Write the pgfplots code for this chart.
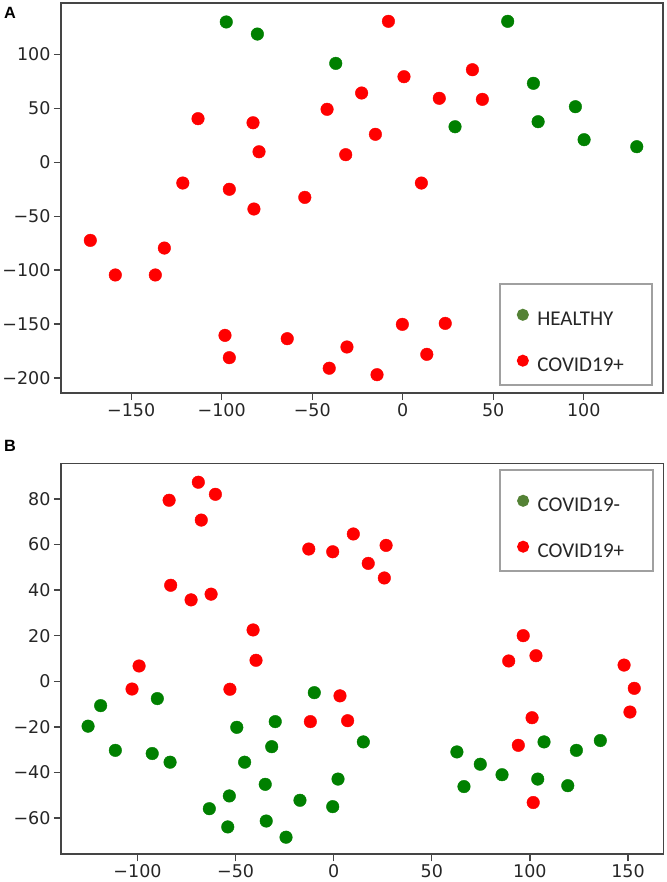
\documentclass[border=0pt]{standalone}
\usepackage{fontspec}
\setmainfont{DejaVu Sans}
\newfontfamily\legfont{Carlito}
\newfontfamily\panelfont{Liberation Sans}
\usepackage{pgfplots}
\pgfplotsset{compat=1.18}
\definecolor{pgreen}{HTML}{008000}
\definecolor{pred}{HTML}{FF0000}
\definecolor{lgreen}{HTML}{548235}
\definecolor{axgray}{HTML}{454545}
\definecolor{leggray}{HTML}{A0A0A0}

\pgfplotstableread{
x y
-97.5 130.2
-80.3 119
-37 91.8
58 130.8
72.2 73.3
95.4 51.6
74.8 37.7
28.9 33
100.2 21
129.3 14.5
}\healthyA

\pgfplotstableread{
x y
-113.1 40.5
-82.7 36.7
-79.4 9.8
-121.5 -19.2
-95.8 -25
-82.2 -43.3
-54.1 -32.5
-41.8 49.2
-7.9 130.8
0.7 79.4
-22.7 64.3
38.5 85.9
20.2 59.4
44 58.4
-15.1 26
-31.5 7.1
10.3 -19.2
-172.6 -72.4
-158.8 -104.5
-136.7 -104.5
-131.7 -79.5
-98.2 -160.5
-95.8 -181.2
-63.8 -163.6
-40.6 -191
-0.2 -150.3
23.5 -149.4
13.3 -178.1
-14.2 -197
-30.8 -171.3
}\covidA

\pgfplotstableread{
x y
-125.2 -19.7
-118.8 -10.7
-111.3 -30.3
-89.9 -7.6
-92.5 -31.7
-83.4 -35.5
-49.4 -20.2
-29.8 -17.7
-31.6 -28.7
-45.4 -35.5
-34.9 -45.2
-53.2 -50.3
-63.4 -55.9
-54 -63.9
-34.4 -61.3
-24.3 -68.4
-17.2 -52.2
-9.9 -5
-0.5 -55
2.2 -42.9
15.1 -26.6
62.8 -31
66.4 -46.2
74.7 -36.4
85.8 -41
104 -42.9
107.2 -26.6
119.3 -45.8
123.7 -30.3
135.9 -26
}\negB

\pgfplotstableread{
x y
-83.9 79.4
-69 87.3
-60.3 82
-67.5 70.7
-83.1 42.1
-72.7 35.7
-62.5 38.2
-41.1 22.5
-12.7 58
-0.5 56.8
10 64.6
26.7 59.6
17.6 51.7
25.8 45.3
96.6 20
-99.2 6.7
-102.8 -3.4
-39.6 9.2
-52.9 -3.5
-11.9 -17.7
3.2 -6.4
7.1 -17.3
89.2 8.9
103.1 11.2
101.1 -16
94.1 -28.1
101.7 -53.2
148 7.1
153.2 -3.1
151 -13.5
}\posB

\pgfplotsset{
  myaxis/.style={
    scale only axis,
    axis line style={axgray, line width=1.6pt},
    tick style={axgray, line width=1.3pt},
    major tick length=7pt,
    tick align=outside,
    tick pos=left,
    ticklabel style={font=\fontsize{17.5}{19}\selectfont, text=black!85},
    legend style={
      anchor=south east,
      draw=leggray, line width=2pt,
      font=\legfont\fontsize{21}{21}\selectfont,
      text=black!85,
      inner xsep=17pt, inner ysep=11.7pt,
      row sep=14.8pt,
      cells={anchor=base west},
      nodes={inner sep=0pt},
      /tikz/every odd column/.append style={column sep=8.5pt},
    },
  },
  dots/.style={only marks, mark=*, mark size=6.3pt, color=#1, fill=#1, mark options={draw=#1, fill=#1}, forget plot},
  legdot/.style={legend image code/.code={\fill[#1] (5pt,10.8pt) circle (5pt); \path (0pt,0pt) (10pt,28.6pt);}},
}

\begin{document}
\begin{tikzpicture}
\path[use as bounding box] (0pt,0pt) rectangle (666pt,-882pt);
\node[font=\panelfont\bfseries\fontsize{16.3}{16.3}\selectfont, anchor=center] at (10pt,-12.5pt) {A};
\node[font=\panelfont\bfseries\fontsize{16.3}{16.3}\selectfont, anchor=center] at (10pt,-445.7pt) {B};

\begin{axis}[myaxis,
  at={(61pt,-3pt)}, anchor=north west,
  width=602pt, height=389.7pt,
  xmin=-188.8, xmax=143.8, ymin=-213.7, ymax=147.8,
  xtick={-150,-100,-50,0,50,100},
  xticklabels={−150,−100,−50,0,50,100},
  ytick={-200,-150,-100,-50,0,50,100},
  yticklabels={−200,−150,−100,−50,0,50,100},
  legend style={at={(0.984,0.018)}},
]
\addplot[dots=pgreen] table {\healthyA};
\addplot[dots=pred] table {\covidA};
\addlegendimage{legdot=lgreen}
\addlegendentry{HEALTHY}
\addlegendimage{legdot=pred}
\addlegendentry{COVID19+\kern11.5pt}
\end{axis}

\begin{axis}[myaxis,
  at={(61pt,-463.3pt)}, anchor=north west,
  width=602.3pt, height=391pt,
  xmin=-139, xmax=168, ymin=-75.9, ymax=95.6,
  xtick={-100,-50,0,50,100,150},
  xticklabels={−100,−50,0,50,100,150},
  ytick={-60,-40,-20,0,20,40,60,80},
  yticklabels={−60,−40,−20,0,20,40,60,80},
  legend style={at={(0.984,0.7228)}},
]
\addplot[dots=pgreen] table {\negB};
\addplot[dots=pred] table {\posB};
\addlegendimage{legdot=lgreen}
\addlegendentry{COVID19-}
\addlegendimage{legdot=pred}
\addlegendentry{COVID19+\kern11.5pt}
\end{axis}
\end{tikzpicture}
\end{document}
